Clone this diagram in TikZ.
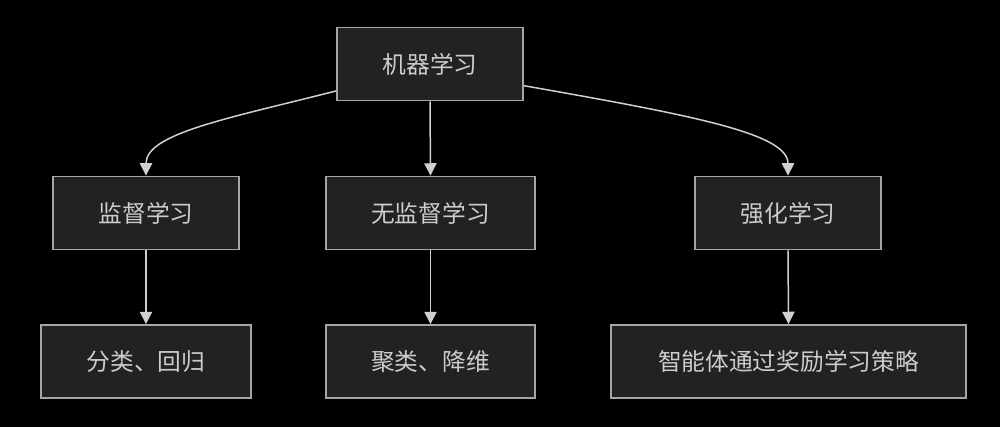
\documentclass[tikz,border=0pt]{standalone}
\usepackage{fontspec}
\newfontfamily\cjk{Noto Sans CJK SC}
\usetikzlibrary{positioning,arrows.meta}
\definecolor{boxfill}{HTML}{212222}
\definecolor{boxline}{HTML}{A6A6A6}
\definecolor{boxtext}{HTML}{CCCCCC}
\definecolor{edgeline}{HTML}{D0D0D0}

\begin{document}
\begin{tikzpicture}[x=0.02cm, y=-0.02cm,
    box/.style={draw=boxline, line width=1.1pt, fill=boxfill, text=boxtext,
        font=\cjk\fontsize{13.5}{16}\selectfont, minimum height=1.46cm, inner sep=0pt},
    link/.style={draw=edgeline, line width=0.85pt, -{Triangle[width=7pt, length=7pt]}}]
    \fill[black] (0,0) rectangle (1000,427);

    \node[box, minimum width=3.72cm] (ml) at (430,64) {机器学习};

    \node[box, minimum width=3.72cm] (jiandu) at (146,213) {监督学习};
    \node[box, minimum width=4.18cm] (wujiandu) at (430.5,213) {无监督学习};
    \node[box, minimum width=3.72cm] (qianghua) at (788,213) {强化学习};

    \node[box, minimum width=4.2cm] (fenlei) at (146,361.5) {分类、回归};
    \node[box, minimum width=4.18cm] (julei) at (430.5,361.5) {聚类、降维};
    \node[box, minimum width=7.1cm] (celue) at (788.5,361.5) {智能体通过奖励学习策略};

    % edges from the root
    \draw[link] (ml.196) .. controls +(-110,28) and +(0,-42) .. (jiandu.north);
    \draw[link] (ml.south) -- (wujiandu.north);
    \draw[link] (ml.347) .. controls +(170,30) and +(0,-42) .. (qianghua.north);

    % second level
    \draw[link] (jiandu.south) -- (fenlei.north);
    \draw[link] (wujiandu.south) -- (julei.north);
    \draw[link] (qianghua.south) -- (celue.north);
\end{tikzpicture}
\end{document}
